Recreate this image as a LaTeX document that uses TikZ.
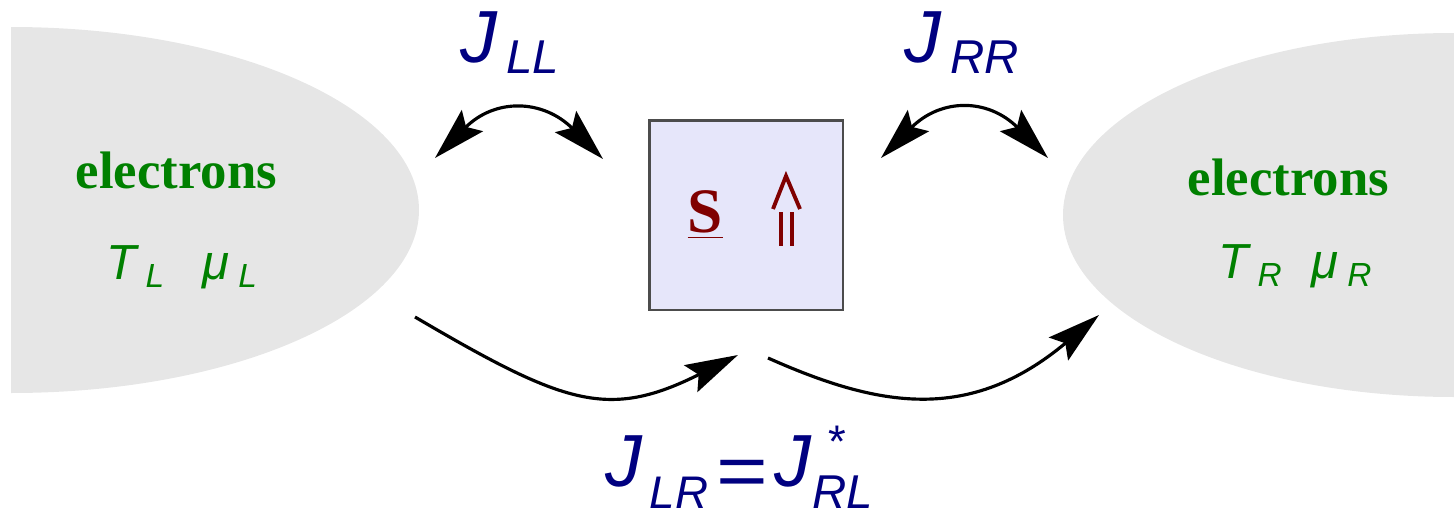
\documentclass[tikz,border=0pt]{standalone}
\usepackage{fontspec}
\setmainfont{Liberation Serif}
\newfontfamily\arialfont{Liberation Sans}
\usepackage{tikz}
\usetikzlibrary{arrows.meta}
\usepackage{xcolor}
\definecolor{bloblgray}{HTML}{E6E6E6}
\definecolor{boxfill}{HTML}{E6E6FA}
\definecolor{jblue}{HTML}{000080}
\definecolor{egreen}{HTML}{008000}
\definecolor{sred}{HTML}{800000}
% lowered index: [gap] drop, size, text
\newcommand{\lowsub}[4][2.5pt]{\hspace{#1}\raisebox{-#2}{\fontsize{#3}{#3}\selectfont #4}}

\begin{document}
\begin{tikzpicture}[x=0.01cm, y=-0.01cm,
    >={Stealth[length=15pt, width=8.5pt, inset=2.5pt]},
    coupling/.style={line width=0.9pt, black},
    jlabel/.style={anchor=base west, inner sep=0pt, text=jblue,
      font=\arialfont\itshape\fontsize{21}{21}\selectfont},
    elec/.style={anchor=base west, inner sep=0pt, text=egreen,
      font=\bfseries\fontsize{15}{15}\selectfont},
    tmu/.style={anchor=base west, inner sep=0pt, text=egreen,
      font=\arialfont\itshape\fontsize{14}{14}\selectfont}]
  \useasboundingbox (0,0) rectangle (1454,515);
  % reservoirs
  \begin{scope}
    \clip (11,0) rectangle (1454,515);
    \fill[bloblgray] (11,210) ellipse[x radius=408, y radius=183];
    \fill[bloblgray] (1454,215) ellipse[x radius=391, y radius=182];
  \end{scope}
  \node[elec] (elecL) at (75,188) {electrons};
  \node[elec] (elecR) at (1187,195) {electrons};
  \node[tmu] (tL) at (106,279) {T\lowsub{2.3pt}{9.5}{L}};
  \node[tmu] (muL) at (202,279) {μ\lowsub{2.3pt}{9.5}{L}};
  \node[tmu] (tR) at (1218,278) {T\lowsub{2.3pt}{9.5}{R}};
  \node[tmu] (muR) at (1311,278) {μ\lowsub{2.3pt}{9.5}{R}};
  % spin
  \node[draw=black!70, line width=0.6pt, fill=boxfill, minimum width=1.93cm,
    minimum height=1.89cm, inner sep=0pt] (spin) at (746,215) {};
  \node[anchor=base west, inner sep=0pt, text=sred,
    font=\bfseries\fontsize{18}{18}\selectfont] (S) at (687,232) {\underline{S}};
  \draw[sred, line width=1.1pt] (773,209) -- (786,176) -- (800,209);
  \draw[sred, line width=1.1pt] (781,212) -- (781,246) (792,212) -- (792,246);
  % couplings
  \coordinate (llA) at (435,158);
  \coordinate (llB) at (603,159);
  \coordinate (rrA) at (881,158);
  \coordinate (rrB) at (1048,158);
  \coordinate (lrA) at (415,317);
  \coordinate (lrB) at (738,355);
  \coordinate (rlA) at (768,358);
  \coordinate (rlB) at (1099,315);
  \draw[coupling, <->] (llA) .. controls (495,98) and (543,99) .. (llB);
  \draw[coupling, <->] (rrA) .. controls (941,98) and (988,98) .. (rrB);
  \draw[coupling, ->] (lrA) .. controls (565,405) and (608,420) .. (lrB);
  \draw[coupling, ->] (rlA) .. controls (878,407) and (969,424) .. (rlB);
  \node[jlabel] (jLL) at (460,62) {J\lowsub{3.4pt}{13.5}{LL}};
  \node[jlabel] (jRR) at (904,62) {J\lowsub{3.4pt}{13.5}{RR}};
  \node[jlabel] (jLR) at (605,486)
    {J\lowsub[2pt]{6.5pt}{13}{LR}\hspace{2.3pt}\raisebox{-3pt}{\upshape\scalebox{1.2}[1]{=}}\hspace{2pt}J\lowsub[0.2pt]{6.5pt}{13.5}{\rlap{\hspace{4pt}\raisebox{14.5pt}{\fontsize{13}{13}\selectfont *}}RL}};
\end{tikzpicture}
\end{document}
